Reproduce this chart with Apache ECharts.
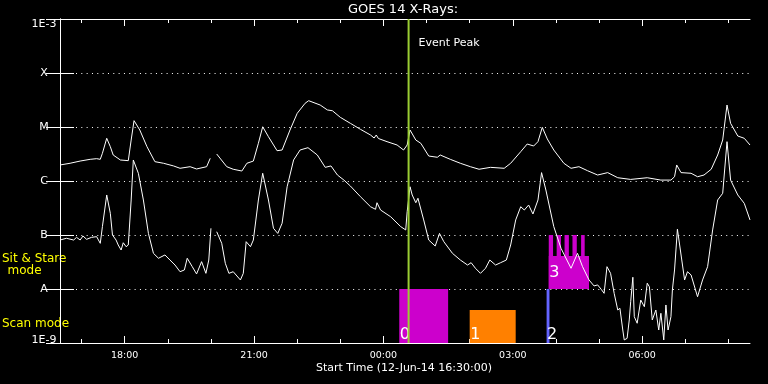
<!DOCTYPE html>
<html>
<head>
<meta charset="utf-8">
<script src="https://cdn.jsdelivr.net/npm/echarts@6/dist/echarts.min.js"></script>
<style>html,body{margin:0;padding:0;background:#000;}#c{width:768px;height:384px;}</style>
</head>
<body>
<div id="c"></div>
<script>
// Time axis: minutes since start time 12-Jun-14 16:30:00 UT
const startLabel = 'Start Time (12-Jun-14 16:30:00)';
const titleText = 'GOES 14 X-Rays:';
const xTickTimes = [90, 270, 450, 630, 810];
const xTickLabels = ['18:00', '21:00', '00:00', '03:00', '06:00'];
const xMinorTicks = [30, 150, 210, 330, 390, 510, 570, 690, 750, 870, 930];
const yTickLabels = ['1E-9', 'A', 'B', 'C', 'M', 'X', '1E-3'];

// GOES long channel (1-8 A), W/m^2 ; null = data gap
const longTime = [0,14,28,42,51,56,59,65,70,74,84,95,99,103,111,121,132,144,158,167,181,190,204,209,213,
  218,232,241,253,260,269,276,282,290,302,309,320,330,341,346,362,372,379,390,404,418,432,437,440,443,455,469,478,483,487,
  495,502,513,525,529,543,557,571,583,599,618,627,641,650,659,665,671,678,687,701,711,722,734,748,762,776,794,817,836,850,
  855,858,864,878,887,896,906,915,922,928,933,943,952,960];
const longFlux = [1.98e-6,2.13e-6,2.34e-6,2.52e-6,2.59e-6,2.52e-6,3.26e-6,6.18e-6,4.32e-6,3.03e-6,2.45e-6,2.38e-6,5.74e-6,1.31e-5,8.79e-6,4.32e-6,2.28e-6,2.13e-6,1.90e-6,1.72e-6,1.84e-6,1.67e-6,1.84e-6,2.63e-6,null,
  3.16e-6,1.84e-6,1.65e-6,1.53e-6,2.13e-6,2.34e-6,4.99e-6,1.01e-5,6.61e-6,3.64e-6,3.75e-6,8.79e-6,1.79e-5,2.75e-5,3.07e-5,2.55e-5,2.07e-5,2.00e-5,1.51e-5,1.17e-5,9.06e-6,7.11e-6,6.25e-6,7.11e-6,6.12e-6,5.35e-6,4.64e-6,3.75e-6,4.64e-6,8.79e-6,
  5.74e-6,4.99e-6,2.90e-6,2.75e-6,3.03e-6,2.52e-6,2.13e-6,1.84e-6,1.65e-6,1.79e-6,1.72e-6,2.13e-6,3.49e-6,4.84e-6,4.45e-6,5.35e-6,9.86e-6,6.00e-6,3.75e-6,2.13e-6,1.72e-6,1.84e-6,1.55e-6,1.29e-6,1.43e-6,1.15e-6,1.07e-6,1.15e-6,1.04e-6,1.04e-6,
  1.20e-6,1.98e-6,1.43e-6,1.39e-6,1.20e-6,1.29e-6,1.65e-6,3.03e-6,5.74e-6,2.55e-5,1.17e-5,6.81e-6,6.18e-6,4.64e-6];

// GOES short channel (0.5-4 A), W/m^2 ; null = data gap
const shortTime = [0,9,19,23,28,32,37,44,51,56,59,65,70,73,78,81,85,88,92,95,99,102,109,116,123,130,137,146,153,160,167,173,177,184,190,197,203,207,210,213,
  218,225,230,235,241,251,255,259,265,269,276,282,290,297,303,309,316,325,334,345,358,369,377,386,395,404,418,432,439,441,446,460,474,481,483,487,490,495,498,506,513,522,528,534,546,557,567,572,578,585,592,598,606,613,621,627,634,641,646,652,658,665,670,676,687,697,711,720,727,736,743,748,753,757,761,766,771,776,779,783,785,789,792,794,797,799,803,808,813,817,820,824,829,833,836,840,843,846,850,852,855,859,869,873,878,887,894,901,908,915,922,928,933,943,952,960];
const shortFlux = [8.07e-8,8.69e-8,8.07e-8,9.06e-8,8.07e-8,9.58e-8,8.32e-8,9.06e-8,9.31e-8,7.01e-8,1.43e-7,5.51e-7,2.52e-7,1.0e-7,8.07e-8,6.53e-8,5.27e-8,7.19e-8,6.07e-8,6.53e-8,4.45e-7,2.45e-6,1.39e-6,4.45e-7,1.07e-7,4.58e-8,3.71e-8,4.27e-8,3.44e-8,2.78e-8,2.09e-8,2.25e-8,3.71e-8,2.59e-8,1.90e-8,3.21e-8,1.95e-8,3.44e-8,1.33e-7,null,
  1.15e-7,7.01e-8,2.99e-8,1.95e-8,2.09e-8,1.47e-8,1.95e-8,7.52e-8,6.07e-8,8.07e-8,4.45e-7,1.39e-6,4.45e-7,1.33e-7,1.07e-7,1.65e-7,7.83e-7,2.45e-6,3.75e-6,4.14e-6,3.03e-6,1.79e-6,1.90e-6,1.29e-6,1.04e-6,8.07e-7,5.12e-7,3.34e-7,2.99e-7,3.96e-7,2.90e-7,2.18e-7,1.43e-7,1.24e-7,2.70e-7,7.83e-7,5.51e-7,3.96e-7,4.79e-7,1.90e-7,8.07e-8,6.25e-8,1.07e-7,7.52e-8,4.58e-8,3.44e-8,2.78e-8,3.07e-8,2.42e-8,1.95e-8,2.42e-8,3.44e-8,2.78e-8,3.07e-8,3.44e-8,6.53e-8,1.90e-7,3.34e-7,2.90e-7,3.59e-7,2.45e-7,4.45e-7,1.43e-6,6.81e-7,1.43e-7,5.68e-8,2.42e-8,4.58e-8,2.59e-8,1.47e-8,1.14e-8,1.19e-8,9.86e-9,8.32e-9,2.59e-8,1.95e-8,8.32e-9,4.08e-9,4.40e-9,1.74e-9,1.14e-9,1.22e-9,2.67e-9,5.82e-9,1.65e-8,3.07e-9,2.32e-9,6.25e-9,4.70e-9,1.28e-8,1.10e-8,2.67e-9,4.08e-9,1.74e-9,3.55e-9,1.14e-9,5.06e-9,1.74e-9,3.07e-9,9.58e-9,2.25e-8,1.28e-7,1.47e-8,2.09e-8,1.82e-8,7.19e-9,1.47e-8,2.59e-8,1.24e-7,4.45e-7,5.92e-7,5.35e-6,1.04e-6,5.51e-7,3.86e-7,1.90e-7];

// Observations (rasters) : start/end minutes, flux-range band, label
const obsStart = [472, 570, 677, 680];
const obsEnd   = [540, 634, 681, 736];
const obsLow   = [1e-9, 1e-9, 1e-9, 1e-8];
const obsHigh  = [1e-8, 4.1e-9, 1e-8, 4.1e-8];
const obsLabel = ['0', '1', '2', '3'];
// Sit & stare exposures of observation 3
const stareStart = [680, 691, 702, 713, 725];
const stareEnd   = [686, 697, 708, 719, 730];
const stareLow = 1e-8, stareHigh = 1e-7;

const eventPeakTime = 485;

// ---- styles ----
const obsColors = ['#cc00cc', '#ff8000', '#6464ff', '#cc00cc'];
const FONT = 'DejaVu Sans';

const chart = echarts.init(document.getElementById('c'), null, {renderer: 'canvas'});

const longData = longTime.map((t, i) => [t, longFlux[i]]);
const shortData = shortTime.map((t, i) => [t, shortFlux[i]]);
const obsData = obsStart.map((s, i) => [s, obsEnd[i], obsLow[i], obsHigh[i], i]);
const stareData = stareStart.map((s, i) => [s, stareEnd[i], stareLow, stareHigh]);

function yLabel(v) {
  const e = Math.round(Math.log10(v));
  const s = yTickLabels[e + 9] || '';
  if (e === -3) return '{hi|' + s + '}';
  if (e === -9) return '{lo|' + s + '}';
  return s;
}
const xFmt = v => { const i = xTickTimes.indexOf(Math.round(v)); return i >= 0 ? xTickLabels[i] : ''; };

const white = {color: '#fff', width: 1};
const baseX = {type: 'value', min: 0, max: 960, gridIndex: 0, splitLine: {show: false}};

const option = {
  backgroundColor: '#000',
  animation: false,
  grid: {left: 60, right: 18, top: 19, bottom: 41, containLabel: false, show: false},
  xAxis: [
    Object.assign({}, baseX, {position: 'bottom',
      axisLine: {show: true, lineStyle: white},
      axisTick: {show: true, inside: true, length: 7, lineStyle: white, customValues: xTickTimes},
      axisLabel: {show: true, customValues: xTickTimes, formatter: xFmt, color: '#fff', fontFamily: FONT, fontSize: 9.5, margin: 8}}),
    Object.assign({}, baseX, {position: 'bottom',
      axisLine: {show: false},
      axisTick: {show: true, inside: true, length: 4, lineStyle: white, customValues: xMinorTicks},
      axisLabel: {show: false}}),
    Object.assign({}, baseX, {position: 'top',
      axisLine: {show: true, lineStyle: white},
      axisTick: {show: true, inside: true, length: 7, lineStyle: white, customValues: xTickTimes},
      axisLabel: {show: false}}),
    Object.assign({}, baseX, {position: 'top',
      axisLine: {show: false},
      axisTick: {show: true, inside: true, length: 4, lineStyle: white, customValues: xMinorTicks},
      axisLabel: {show: false}})
  ],
  yAxis: [
    {type: 'log', logBase: 10, min: 1e-9, max: 1e-3, position: 'left',
      axisLine: {show: true, lineStyle: white},
      axisTick: {show: true, inside: true, length: 14, lineStyle: white},
      axisLabel: {show: true, color: '#fff', fontFamily: FONT, fontSize: 11, margin: 16, align: 'center',
        formatter: yLabel,
        rich: {hi: {color: '#fff', fontFamily: FONT, fontSize: 11, padding: [11, 0, 0, 0]},
               lo: {color: '#fff', fontFamily: FONT, fontSize: 11, padding: [0, 0, 5, 0]}}},
      splitLine: {show: true, lineStyle: {color: '#fff', width: 1, type: [1, 4.33]}}},
    {type: 'log', logBase: 10, min: 1e-9, max: 1e-3, position: 'right',
      axisLine: {show: true, lineStyle: white},
      axisTick: {show: true, inside: true, length: 14, lineStyle: white},
      axisLabel: {show: false}, splitLine: {show: false}}
  ],
  graphic: [
    {type: 'text', x: 403, y: 10, style: {text: titleText, fill: '#fff', font: '13px "DejaVu Sans"', textAlign: 'center', textVerticalAlign: 'middle'}},
    {type: 'text', x: 404, y: 368, style: {text: startLabel, fill: '#fff', font: '11px "DejaVu Sans"', textAlign: 'center', textVerticalAlign: 'middle'}},
    {type: 'text', x: 2, y: 258.5, style: {text: 'Sit & Stare', fill: '#ffff00', font: '12px "DejaVu Sans"', textAlign: 'left', textVerticalAlign: 'middle'}},
    {type: 'text', x: 24.5, y: 270.5, style: {text: 'mode', fill: '#ffff00', font: '12px "DejaVu Sans"', textAlign: 'center', textVerticalAlign: 'middle'}},
    {type: 'text', x: 2, y: 323.5, style: {text: 'Scan mode', fill: '#ffff00', font: '12px "DejaVu Sans"', textAlign: 'left', textVerticalAlign: 'middle'}}
  ],
  series: [
    {type: 'custom', xAxisIndex: 0, yAxisIndex: 0, z: 2, data: obsData,
      renderItem: (params, api) => {
        const s = api.value(0), e = api.value(1), lo = api.value(2), hi = api.value(3), idx = api.value(4);
        const p0 = api.coord([s, hi]), p1 = api.coord([e, lo]);
        const sitMode = lo > 1e-9 * 1.5;
        return {type: 'group', children: [
          {type: 'rect', shape: {x: p0[0], y: p0[1], width: p1[0] - p0[0], height: p1[1] - p0[1]}, style: {fill: obsColors[idx]}},
          {type: 'text', z2: 10, style: {text: obsLabel[idx], x: p0[0] + 0.5, y: p1[1] - (sitMode ? 8 : 0), fill: '#fff',
            font: '16px "DejaVu Sans"', textAlign: 'left', textVerticalAlign: 'bottom'}}
        ]};
      }},
    {type: 'custom', xAxisIndex: 0, yAxisIndex: 0, z: 2, data: stareData,
      renderItem: (params, api) => {
        const p0 = api.coord([api.value(0), api.value(3)]), p1 = api.coord([api.value(1), api.value(2)]);
        return {type: 'rect', shape: {x: p0[0], y: p0[1], width: p1[0] - p0[0], height: p1[1] - p0[1]}, style: {fill: obsColors[3]}};
      }},
    {type: 'line', xAxisIndex: 0, yAxisIndex: 0, z: 5, data: longData, showSymbol: false, symbol: 'none',
      lineStyle: {color: '#fff', width: 1}, connectNulls: false, clip: true},
    {type: 'line', xAxisIndex: 0, yAxisIndex: 0, z: 5, data: shortData, showSymbol: false, symbol: 'none',
      lineStyle: {color: '#fff', width: 1}, connectNulls: false, clip: true},
    {type: 'custom', xAxisIndex: 0, yAxisIndex: 0, z: 6, data: [[eventPeakTime]],
      renderItem: (params, api) => {
        const x = api.coord([api.value(0), 1e-3])[0];
        const cs = params.coordSys;
        return {type: 'group', children: [
          {type: 'rect', shape: {x: x - 1, y: cs.y, width: 2, height: cs.height}, style: {fill: '#9acd32'}},
          {type: 'text', style: {text: 'Event Peak', x: x + 10, y: cs.y + 24.5, fill: '#fff', font: '11px "DejaVu Sans"',
            textAlign: 'left', textVerticalAlign: 'middle'}}
        ]};
      }}
  ]
};
chart.setOption(option);
</script>
</body>
</html>
